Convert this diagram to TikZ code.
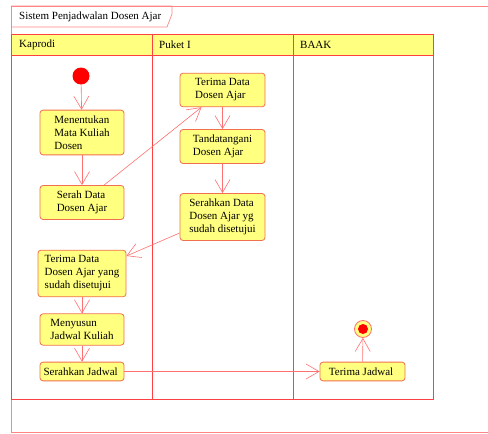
\documentclass[tikz,border=0pt]{standalone}
\usepackage{fontspec}
\setmainfont{Liberation Serif}
\usetikzlibrary{arrows.meta}

\definecolor{actfill}{HTML}{FFFF80}
\definecolor{actdraw}{HTML}{F07050}
\definecolor{laneline}{HTML}{FF4040}
\definecolor{frameline}{HTML}{FF8585}
\definecolor{flowline}{HTML}{FF7070}

\begin{document}
\begin{tikzpicture}[x = 1pt, y = -1pt,
    font = \fontsize{11}{13}\selectfont,
    act/.style = { draw = actdraw, fill = actfill, rounded corners = 3pt, align = left,
      minimum width = 84pt, inner ysep = 5.5pt, line width = .8pt },
    flow/.style = { draw = flowline, line width = .6pt,
      -{Straight Barb[length = 13pt, width = 15pt]} },
    lane/.style = { draw = laneline, line width = .8pt },
    lanetitle/.style = { anchor = west, inner sep = 0pt }]
  \useasboundingbox (0,0) rectangle (488,434);

  % frame and title tab
  \draw[frameline, line width = .7pt] (495,6) -- (11,6) -- (11,432) -- (495,432);
  \draw[frameline, line width = .7pt] (11,6) -- (172,6) -- (172,14) -- (167,27) -- (11,27);
  \node[lanetitle] (title) at (19,17) { Sistem Penjadwalan Dosen Ajar };

  % swimlanes
  \draw[lane, fill = actfill] (11,34) rectangle (433,55);
  \draw[lane] (11,34) rectangle (433,399);
  \foreach \x in {152, 293}
    \draw[lane] (\x,34) -- (\x,399);
  \node[lanetitle] (kaprodi) at (19,45) { Kaprodi };
  \node[lanetitle] (puket) at (159,45) { Puket I };
  \node[lanetitle] (baak) at (300,45) { BAAK };

  % Kaprodi
  \node[circle, fill = red, minimum size = 17pt, inner sep = 0pt] (start) at (81,76) {};
  \node[act] (menentukan) at (82,132.5) { Menentukan \\ Mata Kuliah \\ Dosen };
  \node[act] (serah) at (82,202.5) { Serah Data \\ Dosen Ajar };
  \node[act, minimum width = 88pt] (terimaSetuju) at (82,273.5) { Terima Data \\ Dosen Ajar yang \\ sudah disetujui };
  \node[act] (menyusun) at (82,329.5) { Menyusun \\ Jadwal Kuliah };
  \node[act] (serahkanJadwal) at (82,371.5) { Serahkan Jadwal };

  % Puket I
  \node[act, minimum width = 85pt] (terimaData) at (222.5,90) { Terima Data \\ Dosen Ajar };
  \node[act, minimum width = 85pt] (tandatangani) at (222.5,146.5) { Tandatangani \\ Dosen Ajar };
  \node[act, minimum width = 85pt] (serahkanSetuju) at (222.5,217) { Serahkan Data \\ Dosen Ajar yg \\ sudah disetujui };

  % BAAK
  \node[act, minimum width = 85pt] (terimaJadwal) at (362.5,371.5) { Terima Jadwal };
  \node[circle, draw = flowline, fill = actfill, minimum size = 17pt, inner sep = 0pt,
    line width = .8pt] (finish) at (363,329) {};
  \fill[red] (finish) circle (5pt);

  % flows
  \draw[flow] (start) -- (menentukan);
  \draw[flow] (menentukan) -- (serah);
  \draw[flow] ([xshift = 22pt]serah.north) -- ([xshift = -21pt]terimaData.south);
  \draw[flow] (terimaData) -- (tandatangani);
  \draw[flow] (tandatangani) -- (serahkanSetuju);
  \draw[flow] ([yshift = -16pt]serahkanSetuju.west) -- ([yshift = 17.5pt]terimaSetuju.east);
  \draw[flow] (terimaSetuju) -- (menyusun);
  \draw[flow] (menyusun) -- (serahkanJadwal);
  \draw[flow] (serahkanJadwal) -- (terimaJadwal);
  \draw[flow] (terimaJadwal) -- (finish);
\end{tikzpicture}
\end{document}
